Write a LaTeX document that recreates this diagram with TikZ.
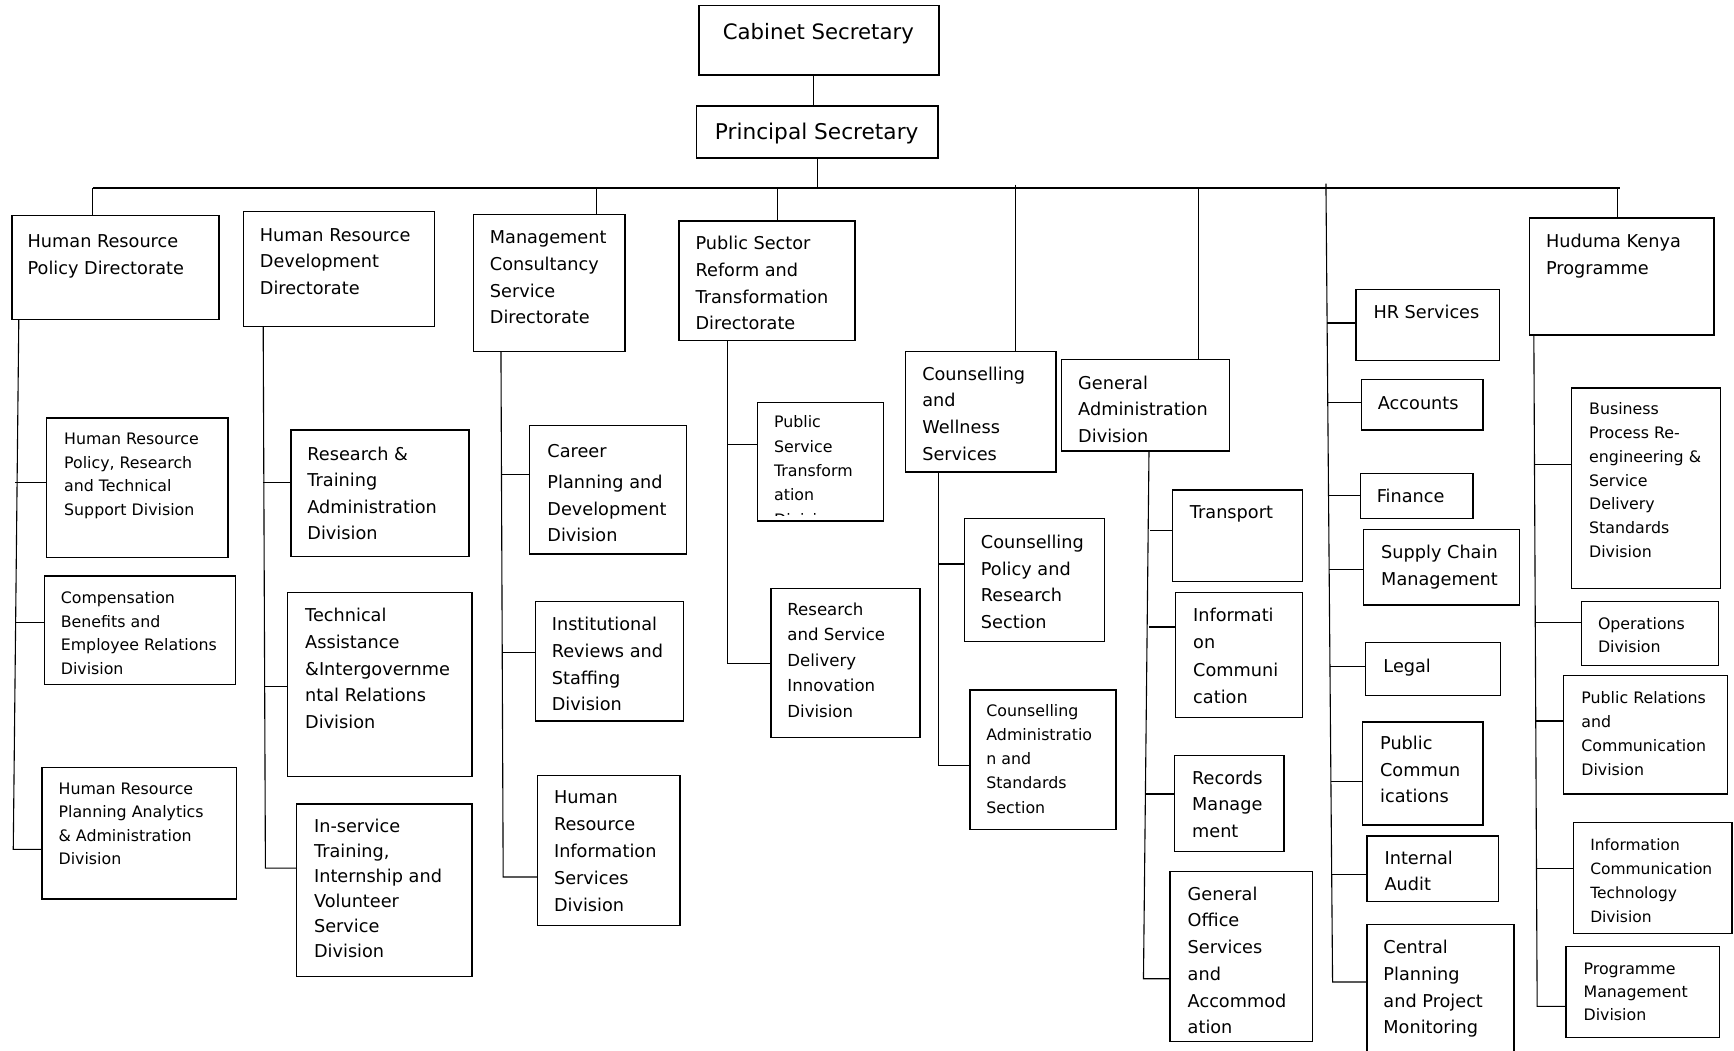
\documentclass[tikz,border=0pt]{standalone}
\usepackage{fontspec}
\setmainfont{DejaVu Sans}
\usetikzlibrary{calc}
\newcommand\obox[5]{\node[obx, minimum width={(#4-#2)*1pt}, minimum height={(#5-#3)*1pt}] (#1) at (#2,#3) {};}
\newcommand\otext[5]{\node[otx, font=\fontsize{#3}{#4}\selectfont] (#1) at (#2) {\begin{tabular}[t]{@{}l@{}}#5\end{tabular}};}
\begin{document}
\begin{tikzpicture}[x=1pt,y=-1pt,
 obx/.style={draw=black, line width=1.3pt, rectangle, inner sep=0pt, outer sep=0pt, anchor=north west},
 otx/.style={anchor=base west, inner sep=0pt, outer sep=0pt},
 conn/.style={draw=black, line width=1pt},
 thk/.style={line width=1.6pt}]
\clip (0,0) rectangle (1568,950);
\fill[white] (0,0) rectangle (1568,950);
% ---------- boxes
\obox{cs}{632}{5}{849}{68}
\obox{ps}{630}{96}{848}{143}
\obox{hrpd}{11}{195}{198}{289}
\obox{hrdd}{220}{191}{393}{295}
\obox{mcsd}{428}{194}{565}{318}
\obox{psrt}{614}{200}{773}{308}
\obox{cws}{819}{318}{955}{427}
\obox{gad}{960}{325}{1112}{408}
\obox{hkp}{1383}{197}{1550}{303}
\obox{hrprts}{42}{378}{206}{504}
\obox{cber}{40}{521}{213}{619}
\obox{hrpa}{38}{694}{214}{813}
\obox{rtad}{263}{389}{424}{503}
\obox{tair}{260}{536}{427}{702}
\obox{itiv}{268}{727}{427}{883}
\obox{cpdd}{479}{385}{621}{501}
\obox{irsd}{484}{544}{618}{652}
\obox{hrisd}{486}{701}{615}{837}
\obox{pstd}{685}{364}{799}{471}
\obox{rsdi}{697}{532}{832}{667}
\obox{cprs}{872}{469}{999}{580}
\obox{cass}{877}{624}{1009}{750}
\obox{trans}{1060}{443}{1178}{526}
\obox{infoc}{1063}{536}{1178}{649}
\obox{recm}{1062}{683}{1161}{770}
\obox{goss}{1058}{788}{1187}{942}
\obox{hrs}{1226}{262}{1356}{326}
\obox{acc}{1231}{343}{1341}{389}
\obox{fin}{1230}{428}{1332}{469}
\obox{scm}{1233}{479}{1374}{547}
\obox{leg}{1235}{581}{1357}{629}
\obox{pubc}{1232}{653}{1341}{746}
\obox{ia}{1236}{756}{1355}{815}
\obox{cppm}{1236}{836}{1369}{960}
\obox{bpr}{1421}{351}{1556}{532}
\obox{ops}{1430}{544}{1554}{602}
\obox{prc}{1414}{611}{1562}{718}
\obox{ict}{1423}{744}{1566}{844}
\obox{pmd}{1416}{856}{1555}{938}
% ---------- texts
\node[otx, anchor=base, font=\fontsize{19.2}{23}\selectfont] (cs-t) at (740,35.5) {Cabinet Secretary};
\node[otx, anchor=base, font=\fontsize{19.6}{23}\selectfont] (ps-t) at (738.5,126) {Principal Secretary};
\otext{hrpd-t}{25,224}{16}{24}{Human Resource\\Policy Directorate}
\otext{hrdd-t}{235,218}{16}{24}{Human Resource\\Development\\Directorate}
\otext{mcsd-t}{443,220}{16}{24.3}{Management\\Consultancy\\Service\\Directorate}
\otext{psrt-t}{629,226}{16}{24}{Public Sector\\Reform and\\Transformation\\Directorate}
\otext{cws-t}{834,344}{16}{24}{Counselling\\and\\Wellness\\Services}
\begin{scope}
\clip (960,325) rectangle (1112,401);
\otext{gad-t}{975,352}{16}{24}{General\\Administration\\Division}
\end{scope}
\otext{hkp-t}{1398,224}{16}{24}{Huduma Kenya\\Programme}
\otext{hrprts-t}{58,402}{14.3}{21.3}{Human Resource\\Policy, Research\\and Technical\\Support Division}
\otext{cber-t}{55,546}{14.3}{21.3}{Compensation\\Benefits and\\Employee Relations\\Division}
\otext{hrpa-t}{53,718}{14.3}{21.3}{Human Resource\\Planning Analytics\\\& Administration\\Division}
\otext{rtad-t}{278,416}{16}{24}{Research \&\\Training\\Administration\\Division}
\otext{tair-t}{276,562}{16}{24.2}{Technical\\Assistance\\\&Intergovernme\\ntal Relations\\Division}
\otext{itiv-t}{284,753}{16}{22.6}{In-service\\Training,\\Internship and\\Volunteer\\Service\\Division}
\otext{cpdd-t}{495,414}{16}{24}{Career\\[4pt]Planning and\\Development\\Division}
\otext{irsd-t}{499,570}{16}{24.3}{Institutional\\Reviews and\\Staffing\\Division}
\otext{hrisd-t}{501,727}{16}{24.3}{Human\\Resource\\Information\\Services\\Division}
\begin{scope}
\clip (685,364) rectangle (799,466.5);
\otext{pstd-t}{700,387}{14.3}{22}{Public\\Service\\Transform\\ation\\Division}
\end{scope}
\otext{rsdi-t}{712,556.5}{15}{23}{Research\\and Service\\Delivery\\Innovation\\Division}
\otext{cprs-t}{887,496}{16}{24}{Counselling\\Policy and\\Research\\Section}
\otext{cass-t}{892,648}{14.3}{21.8}{Counselling\\Administratio\\n and\\Standards\\Section}
\otext{trans-t}{1076,469}{16}{24}{Transport}
\otext{infoc-t}{1079,562}{16}{24.7}{Informati\\on\\Communi\\cation}
\otext{recm-t}{1078,709}{16}{24}{Records\\Manage\\ment}
\otext{goss-t}{1074,814}{16}{24.2}{General\\Office\\Services\\and\\Accommod\\ation}
\otext{hrs-t}{1242,288}{16}{24}{HR Services}
\otext{acc-t}{1246,370}{16}{24}{Accounts}
\otext{fin-t}{1245,454}{16}{24}{Finance}
\otext{scm-t}{1249,505}{16}{24}{Supply Chain\\Management}
\otext{leg-t}{1251,608}{16}{24}{Legal}
\otext{pubc-t}{1248,678}{16}{24}{Public\\Commun\\ications}
\otext{ia-t}{1252,782}{16}{23}{Internal\\Audit}
\otext{cppm-t}{1251,862}{16}{24.3}{Central\\Planning\\and Project\\Monitoring}
\otext{bpr-t}{1437,375}{14.3}{21.5}{Business\\Process Re-\\engineering \&\\Service\\Delivery\\Standards\\Division}
\otext{ops-t}{1445,569}{14.3}{21}{Operations\\Division}
\otext{prc-t}{1430,636}{14.3}{21.7}{Public Relations\\and\\Communication\\Division}
\otext{ict-t}{1438,769}{14}{21.7}{Information\\Communication\\Technology\\Division}
\otext{pmd-t}{1432,881}{14.3}{21}{Programme\\Management\\Division}
% ---------- top connectors
\coordinate (busL) at (84,170);
\coordinate (busR) at (1465,170);
\draw[conn] (cs.south -| 736,0) -- (ps.north -| 736,0);
\draw[conn] (ps.south -| 739,0) -- (busL -| 739,0);
\draw[conn] (busL) -- (busR);
\draw[conn] (busL) -- (hrpd.north -| busL);
\draw[conn] (busL -| 539,0) -- (mcsd.north -| 539,0);
\draw[conn] (busL -| 703,0) -- (psrt.north -| 703,0);
\draw[conn] (918,167) -- (cws.north -| 918,0);
\draw[conn] (busL -| 1084,0) -- (gad.north -| 1084,0);
\draw[conn] (busL -| 1463,0) -- (hkp.north -| 1463,0);
% ---------- HR policy column
\draw[conn] (hrpd.south -| 17,0) -- (12,768) -- (hrpa.west |- 0,768);
\draw[conn] (hrprts.west |- 0,436) -- +(-28,0);
\draw[conn] (cber.west |- 0,563) -- +(-26,0);
% ---------- HR development column
\draw[conn] (hrdd.south -| 238,0) -- (240,785) -- (itiv.west |- 0,785);
\draw[conn] (rtad.west |- 0,436) -- +(-25,0);
\draw[conn] (tair.west |- 0,621) -- +(-21,0);
% ---------- Management consultancy column
\draw[conn] (mcsd.south -| 453,0) -- (455,793) -- (hrisd.west |- 0,793);
\draw[conn] (cpdd.west |- 0,429) -- +(-25,0);
\draw[conn] (irsd.west |- 0,590) -- +(-30,0);
% ---------- PSRT column
\draw[conn] (psrt.south -| 658,0) -- (658,600) -- (rsdi.west |- 0,600);
\draw[conn] (pstd.west |- 0,402) -- +(-27,0);
% ---------- Counselling column
\draw[conn] (cws.south -| 849,0) -- (849,692) -- (cass.west |- 0,692);
\draw[conn] (cprs.west |- 0,510) -- +(-23,0);
% ---------- General administration column
\draw[conn] (gad.south -| 1039,0) -- (1034,885) -- (goss.west |- 0,885);
\draw[conn] (trans.west |- 0,480) -- +(-20,0);
\draw[conn] (infoc.west |- 0,567) -- +(-24,0);
\draw[conn] (recm.west |- 0,718) -- +(-26,0);
% ---------- Services column
\draw[conn] (1199,166) -- (1205,888) -- (cppm.west |- 0,888);
\draw[conn,thk] (hrs.west |- 0,292) -- +(-26,0);
\draw[conn] (acc.west |- 0,364) -- +(-30.4,0);
\draw[conn] (fin.west |- 0,448) -- +(-28.7,0);
\draw[conn] (scm.west |- 0,515) -- +(-31.1,0);
\draw[conn] (leg.west |- 0,603) -- +(-32.4,0);
\draw[conn] (pubc.west |- 0,707) -- +(-28.5,0);
\draw[conn] (ia.west |- 0,791) -- +(-31.8,0);
% ---------- Huduma column
\draw[conn] (hkp.south -| 1387,0) -- (1390,910) -- (pmd.west |- 0,910);
\draw[conn] (bpr.west |- 0,420) -- +(-33,0);
\draw[conn] (ops.west |- 0,563) -- +(-41.7,0);
\draw[conn] (prc.west |- 0,652) -- +(-25.3,0);
\draw[conn] (ict.west |- 0,785) -- +(-33.6,0);
\end{tikzpicture}
\end{document}
